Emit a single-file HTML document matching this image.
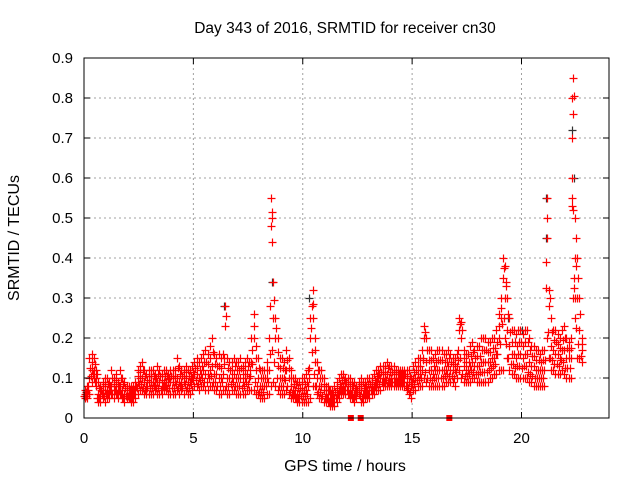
<!DOCTYPE html>
<html><head><meta charset="utf-8"><style>
body{margin:0;background:#fff;}
svg{display:block;font-family:"Liberation Sans",sans-serif;}
</style></head><body>
<svg id="chart" width="640" height="480" xmlns="http://www.w3.org/2000/svg">
<text x="345" y="33" font-size="15.5" text-anchor="middle">Day 343 of 2016, SRMTID for receiver cn30</text>
<text x="345" y="471" font-size="16" text-anchor="middle">GPS time / hours</text>
<text x="19" y="238" font-size="16" text-anchor="middle" transform="rotate(-90 19 238)">SRMTID / TECUs</text>
<g id="grid"></g>
<g id="marks"></g>
<rect x="84" y="58" width="525" height="360" fill="none" stroke="#000" stroke-width="1"/>
<g id="ticks"></g>
</svg>
<script>
const xTicks=[0,5,10,15,20];
const yTicks=[0,0.1,0.2,0.3,0.4,0.5,0.6,0.7,0.8,0.9];
const yTickLabels=["0","0.1","0.2","0.3","0.4","0.5","0.6","0.7","0.8","0.9"];
// values in hundredths of TECU, one per 0.1 h bin starting at 0 h
const lowSeries=[5,5,6,9,10,8,4,4,5,4, 5,5,6,5,6,5,6,5,4,5, 5,4,4,5,6,7,7,6,6,6, 6,6,7,6,6,6,7,7,6,6, 6,6,7,6,7,6,7,6,6,7, 8,8,7,8,8,7,7,8,8,7, 7,6,6,7,7,6,6,7,7,6, 6,6,6,6,7,7,7,7,6,6, 5,5,5,6,6,8,9,8,7,6, 6,6,7,6,5,5,5,4,4,4, 4,4,4,5,8,8,6,5,5,4, 4,4,3,3,3,4,5,6,6,6, 6,5,5,4,5,6,4,4,5,5, 5,6,6,7,7,7,8,8,8,8, 8,8,8,8,8,8,8,7,6,5, 7,7,8,8,8,10,9,8,8,8, 8,8,8,8,8,9,9,9,9,8, 10,12,10,9,9,9,9,10,10,9, 9,9,9,9,9,10,10,11,11,12, 12,12,20,15,12,11,11,10,10,10, 10,10,10,9,9,8,8,8,8,8, 8,20,15,12,12,11,11,11,12,11, 10,10,10,30,25,15,15,14];
const midSeries=[6,6,10,12,12,10,6,6,7,7, 7,7,8,7,8,7,8,7,6,6, 6,6,6,7,9,10,10,9,8,9, 9,9,9,9,9,8,9,9,9,9, 9,9,10,9,9,9,10,9,9,10, 11,11,10,11,12,11,11,12,13,11, 11,10,10,11,23,10,10,10,11,10, 10,10,9,10,11,10,14,20,12,10, 8,8,8,10,12,48,25,20,13,10, 10,10,12,10,8,7,7,6,6,7, 7,7,8,20,25,14,10,8,8,7, 6,6,5,5,5,6,7,8,8,8, 8,7,7,6,6,7,7,6,7,7, 7,8,8,9,10,10,10,10,11,10, 10,10,10,10,10,10,10,9,9,8, 10,10,11,11,12,20,14,12,12,11, 12,12,12,12,12,12,13,12,12,12, 13,22,20,13,12,12,13,14,13,13, 13,14,14,14,14,14,15,15,16,20, 25,35,30,22,18,16,16,15,16,16, 15,16,16,14,13,13,12,12,12,12, 12,45,28,18,17,16,16,15,17,17, 15,15,15,76,40,30,22,17];
const highSeries=[7,8,15,16,15,12,9,8,9,10, 10,9,12,10,11,9,12,10,9,8, 8,8,8,9,12,13,14,12,11,12, 12,12,11,13,12,11,12,12,11,12, 12,12,15,13,12,12,13,12,12,13, 14,15,14,15,16,17,16,18,20,16, 15,16,15,16,28,15,14,14,15,14, 14,15,13,14,15,14,20,26,18,15, 12,12,12,14,20,55,34,25,20,15, 15,14,17,15,12,10,10,9,9,10, 10,11,12,25,32,20,14,12,12,10, 8,8,7,7,8,9,10,11,11,10, 10,10,9,9,8,9,10,9,9,10, 10,10,11,12,12,13,13,13,14,13, 13,13,12,12,12,12,12,12,12,10, 13,14,15,15,17,23,20,17,17,15, 16,17,17,17,16,16,17,16,15,15, 16,25,24,17,16,16,18,19,17,18, 18,20,20,20,19,19,20,20,22,26, 30,40,38,30,25,22,22,21,22,22, 21,22,22,20,18,18,17,17,16,17, 17,55,32,25,22,22,21,20,22,23, 20,19,20,85,50,40,30,20];
const extraTimes=[8.6,8.6,22.3,22.3,22.3,22.3,22.35,22.4,22.45,22.5,19.3,10.4,21.1];
const extraValues=[0.50,0.44,0.80,0.70,0.60,0.55,0.52,0.35,0.30,0.38,0.33,0.28,0.39];
const blackTimes=[8.6,6.4,21.1,21.1,22.3,22.4,10.3,19.4,20.0];
const blackValues=[0.34,0.28,0.55,0.45,0.72,0.60,0.30,0.25,0.22];
const zeroTimes=[12.2,12.65,16.7];

const X0=84,X1=609,Y0=418,Y1=58;
const xs=t=>X0+t/24*(X1-X0);
const ys=v=>Y0-v/0.9*(Y0-Y1);
const NS="http://www.w3.org/2000/svg";
function mk(tag,attrs,parent){const e=document.createElementNS(NS,tag);for(const k in attrs)e.setAttribute(k,attrs[k]);parent.appendChild(e);return e;}
const grid=document.getElementById('grid'),ticks=document.getElementById('ticks'),marks=document.getElementById('marks');
yTicks.forEach((v,i)=>{
  const y=ys(v);
  if(i>0&&i<yTicks.length-1){const g=mk('line',{x1:X0,x2:X1,y1:y,y2:y,stroke:'#a0a0a0','stroke-dasharray':'2,3'},grid);
  
  }
  const t1=mk('line',{x1:X0,x2:X0+6,y1:y,y2:y,stroke:'#000'},ticks);
  
  
  const t2=mk('line',{x1:X1-6,x2:X1,y1:y,y2:y,stroke:'#000'},ticks);
  
  
  const l=mk('text',{x:X0-11,y:y+5,'font-size':15,'text-anchor':'end'},ticks);
  l.textContent=yTickLabels[i];
  
  
});
xTicks.forEach(v=>{
  const x=xs(v);
  if(v>0){const g=mk('line',{x1:x,x2:x,y1:Y1,y2:Y0,stroke:'#a0a0a0','stroke-dasharray':'2,3'},grid);
  
  }
  const t1=mk('line',{x1:x,x2:x,y1:Y0-6,y2:Y0,stroke:'#000'},ticks);
  
  
  const t2=mk('line',{x1:x,x2:x,y1:Y1,y2:Y1+6,stroke:'#000'},ticks);
  
  
  const l=mk('text',{x:x,y:Y0+25,'font-size':15,'text-anchor':'middle'},ticks);
  l.textContent=String(v);
  
  
});
function cross(t,v,color,name){
  const x=Math.round(xs(t))+0.5,y=Math.round(ys(v))+0.5;
  const p=mk('path',{d:`M${x-4},${y}h8M${x},${y-4}v8`,stroke:color,'stroke-width':1.2,fill:'none'},marks);
  
  
}
blackTimes.forEach((t,i)=>cross(t,blackValues[i],'#333','reference-point'));
[lowSeries,midSeries,highSeries].forEach(arr=>{
  arr.forEach((v,i)=>cross(i*0.1+0.05,v/100,'#ff0000','srmtid-point'));
});
lowSeries.forEach((v,i)=>{cross(i*0.1,(v+midSeries[i])/200,'#ff0000','srmtid-point');cross(i*0.1+0.08,(highSeries[i]+midSeries[i])/200,'#ff0000','srmtid-point');});
extraTimes.forEach((t,i)=>cross(t,extraValues[i],'#ff0000','srmtid-spike-point'));
zeroTimes.forEach(t=>{
  const r=mk('rect',{x:xs(t)-3,y:Y0-3,width:6,height:6,fill:'#ff0000'},marks);
  
  
});
</script>
</body></html>
